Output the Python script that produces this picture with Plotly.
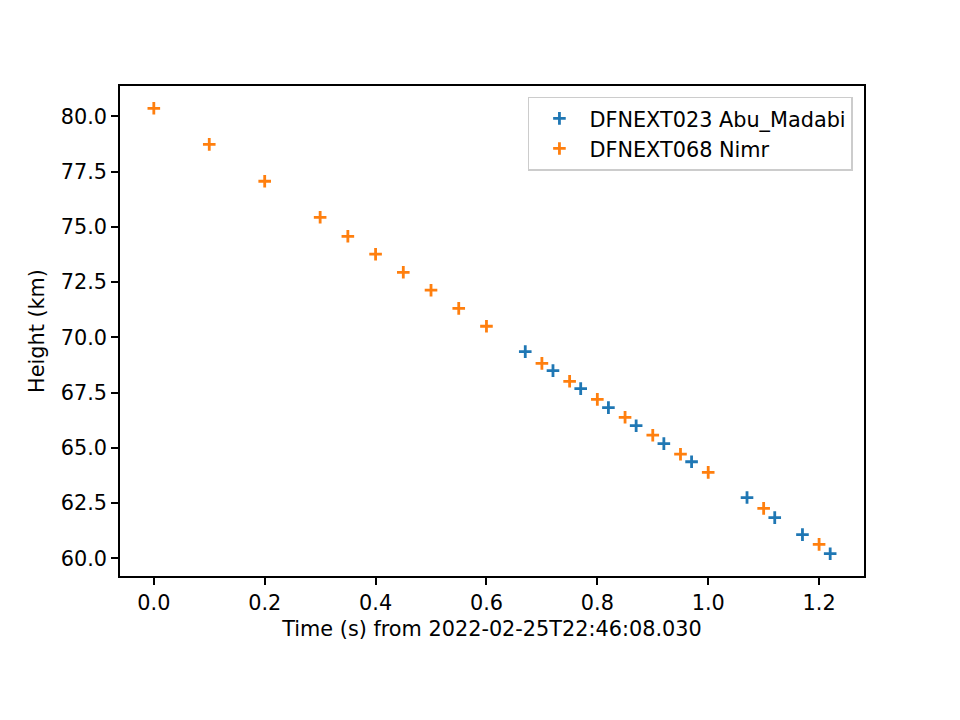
import plotly.graph_objects as go

# DFNEXT023 Abu_Madabi (blue)
t_abu = [0.67, 0.72, 0.77, 0.82, 0.87, 0.92, 0.97, 1.07, 1.12, 1.17, 1.22]
h_abu = [69.35, 68.49, 67.68, 66.82, 66.00, 65.19, 64.37, 62.75, 61.84, 61.07, 60.21]

# DFNEXT068 Nimr (orange)
t_nimr = [0.0, 0.1, 0.2, 0.3, 0.35, 0.4, 0.45, 0.5, 0.55, 0.6,
          0.7, 0.75, 0.8, 0.85, 0.9, 0.95, 1.0, 1.1, 1.2]
h_nimr = [80.36, 78.73, 77.06, 75.43, 74.57, 73.76, 72.94, 72.13, 71.31, 70.50,
          68.82, 68.01, 67.19, 66.38, 65.57, 64.71, 63.89, 62.26, 60.63]

x_ticks = [0.0, 0.2, 0.4, 0.6, 0.8, 1.0, 1.2]
y_ticks = [60.0, 62.5, 65.0, 67.5, 70.0, 72.5, 75.0, 77.5, 80.0]

FONT = "DejaVu Sans"
FS = 20.8

fig = go.Figure()
for name, xs, ys, col in [
    ("DFNEXT023 Abu_Madabi", t_abu, h_abu, "#1f77b4"),
    ("DFNEXT068 Nimr", t_nimr, h_nimr, "#ff7f0e"),
]:
    fig.add_trace(go.Scatter(
        x=xs, y=ys, mode="markers", name=name,
        marker=dict(symbol="cross-thin", size=9, color=col,
                    line=dict(color=col, width=2.8)),
    ))

axis_common = dict(
    showline=True, linecolor="black", linewidth=1.6, mirror=True,
    ticks="outside", ticklen=7, tickwidth=1.6, tickcolor="black",
    showgrid=False, zeroline=False,
    tickfont=dict(family=FONT, size=FS, color="black"),
)

fig.update_layout(
    width=960, height=720,
    margin=dict(l=120, r=96, t=86, b=144),
    paper_bgcolor="white", plot_bgcolor="white",
    font=dict(family=FONT, size=FS, color="black"),
    xaxis=dict(range=[-0.061, 1.281], tickvals=x_ticks,
               ticktext=[f"{v:.1f}" for v in x_ticks],
               title=dict(text="Time (s) from 2022-02-25T22:46:08.030",
                          font=dict(family=FONT, size=FS), standoff=8),
               **axis_common),
    yaxis=dict(range=[59.2, 81.37], tickvals=y_ticks,
               ticktext=[f"{v:.1f}" for v in y_ticks],
               title=dict(text="Height (km)", font=dict(family=FONT, size=FS), standoff=10),
               **axis_common),
    legend=dict(x=0.985, y=0.978, xanchor="right", yanchor="top",
                bordercolor="#cccccc", borderwidth=1.6, bgcolor="rgba(255,255,255,0.8)",
                font=dict(family=FONT, size=FS), itemwidth=50),
    showlegend=True,
)

fig.write_html("out.html")
